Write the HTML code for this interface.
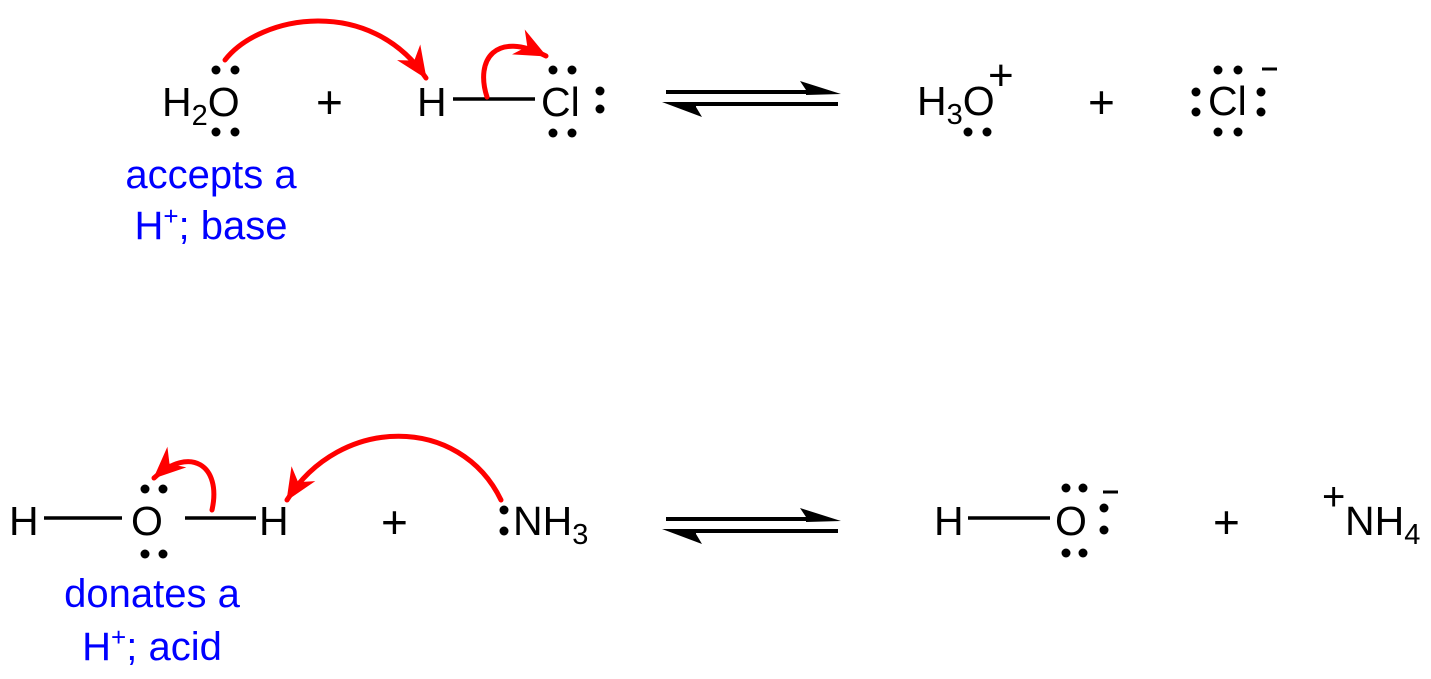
<!DOCTYPE html>
<html><head><meta charset="utf-8"><style>
html,body{margin:0;padding:0;background:#fff;}
svg{display:block;}
text{font-family:"Liberation Sans",Arial,sans-serif;}
</style></head><body>
<svg width="1431" height="679" viewBox="0 0 1431 679" xmlns="http://www.w3.org/2000/svg">
<defs>
<marker id="ah" markerWidth="10" markerHeight="10" refX="9" refY="5" orient="auto" markerUnits="userSpaceOnUse" viewBox="0 0 10 10" style="overflow:visible">
<path d="M-22,-9 L10,5 L-22,19 L-12,5 Z" fill="#f00"/>
</marker>
</defs>
<g fill="#000" font-size="41">
<!-- top row -->
<text x="162" y="116">H<tspan font-size="29" dy="9">2</tspan><tspan dy="-9">O</tspan></text>
<circle cx="216" cy="70" r="4.5"/><circle cx="235" cy="70" r="4.5"/>
<circle cx="216" cy="132" r="4.5"/><circle cx="235" cy="132" r="4.5"/>
<text x="316" y="118" font-size="46">+</text>
<text x="417" y="116">H</text>
<line x1="453" y1="99" x2="535" y2="99" stroke="#000" stroke-width="3.5"/>
<text x="541" y="116">Cl</text>
<circle cx="553" cy="70" r="4.5"/><circle cx="572" cy="70" r="4.5"/>
<circle cx="553" cy="133" r="4.5"/><circle cx="572" cy="133" r="4.5"/>
<circle cx="600" cy="91" r="4.5"/><circle cx="600" cy="109" r="4.5"/>
<!-- eq arrows top -->
<line x1="666" y1="92" x2="820" y2="92" stroke="#000" stroke-width="4"/>
<path d="M841,94 L800,81 L806,90 L806,95 Z"/>
<line x1="686" y1="104" x2="838" y2="104" stroke="#000" stroke-width="4"/>
<path d="M662,102 L702,117 L696,107 L696,102 Z"/>
<text x="917" y="115">H<tspan font-size="29" dy="9">3</tspan><tspan dy="-9">O</tspan></text>
<text x="988" y="90" font-size="44">+</text>
<circle cx="968" cy="132" r="4.5"/><circle cx="987" cy="132" r="4.5"/>
<text x="1088" y="118" font-size="46">+</text>
<text x="1208" y="115">Cl</text>
<circle cx="1196" cy="92" r="4.5"/><circle cx="1196" cy="112" r="4.5"/>
<circle cx="1218" cy="70" r="4.5"/><circle cx="1238" cy="70" r="4.5"/>
<circle cx="1218" cy="132" r="4.5"/><circle cx="1238" cy="132" r="4.5"/>
<circle cx="1261" cy="92" r="4.5"/><circle cx="1261" cy="112" r="4.5"/>
<line x1="1262" y1="69" x2="1277" y2="69" stroke="#000" stroke-width="3"/>

<!-- bottom row -->
<text x="9" y="535">H</text>
<line x1="44" y1="518" x2="122" y2="518" stroke="#000" stroke-width="3.5"/>
<text x="131" y="535">O</text>
<circle cx="145" cy="489" r="4.5"/><circle cx="163" cy="489" r="4.5"/>
<circle cx="145" cy="554" r="4.5"/><circle cx="163" cy="554" r="4.5"/>
<line x1="185" y1="518" x2="256" y2="518" stroke="#000" stroke-width="3.5"/>
<text x="259" y="535">H</text>
<text x="381" y="538" font-size="46">+</text>
<circle cx="504" cy="510" r="4.5"/><circle cx="504" cy="531" r="4.5"/>
<text x="513" y="535">NH<tspan font-size="29" dy="9">3</tspan></text>
<line x1="666" y1="519" x2="820" y2="519" stroke="#000" stroke-width="4"/>
<path d="M841,521 L800,508 L806,517 L806,522 Z"/>
<line x1="686" y1="531" x2="838" y2="531" stroke="#000" stroke-width="4"/>
<path d="M662,529 L702,544 L696,534 L696,529 Z"/>
<text x="934" y="535">H</text>
<line x1="968" y1="518" x2="1050" y2="518" stroke="#000" stroke-width="3.5"/>
<text x="1055" y="535">O</text>
<circle cx="1066" cy="488" r="4.5"/><circle cx="1083" cy="488" r="4.5"/>
<circle cx="1066" cy="553" r="4.5"/><circle cx="1083" cy="553" r="4.5"/>
<circle cx="1104" cy="508" r="4.5"/><circle cx="1104" cy="530" r="4.5"/>
<line x1="1103" y1="492" x2="1118" y2="492" stroke="#000" stroke-width="3"/>
<text x="1213" y="538" font-size="46">+</text>
<text x="1322" y="510" font-size="40">+</text>
<text x="1345" y="535">NH<tspan font-size="29" dy="9">4</tspan></text>
</g>

<!-- blue labels -->
<g fill="#0000ff" font-size="40" text-anchor="middle">
<text x="211" y="188">accepts a</text>
<text x="211" y="239">H<tspan font-size="26" dy="-14">+</tspan><tspan dy="14">; base</tspan></text>
<text x="152" y="607">donates a</text>
<text x="152" y="660">H<tspan font-size="26" dy="-14">+</tspan><tspan dy="14">; acid</tspan></text>
</g>

<!-- red curved arrows -->
<g fill="none" stroke="#f00" stroke-width="5" stroke-linecap="round">
<path d="M225,60 C260,15 370,-5 426,78" marker-end="url(#ah)"/>
<path d="M487,97 C475,60 495,30 546,56" marker-end="url(#ah)"/>
<path d="M212,510 C222,465 190,445 154,478" marker-end="url(#ah)"/>
<path d="M501,500 C460,415 340,415 287,500" marker-end="url(#ah)"/>
</g>
</svg>
</body></html>
